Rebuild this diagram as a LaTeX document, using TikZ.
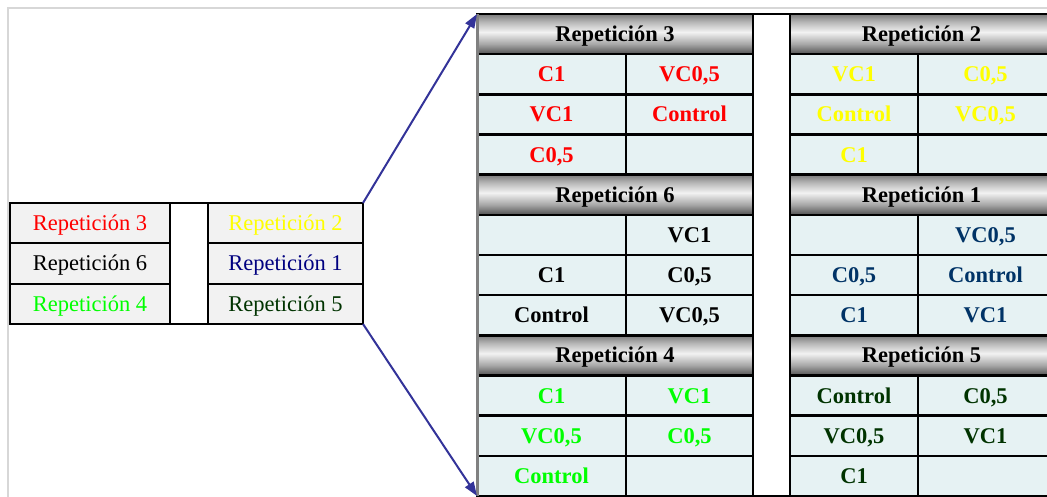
\documentclass[tikz,border=0pt]{standalone}
\usepackage{fontspec}
\setmainfont{Liberation Serif}
\usetikzlibrary{arrows.meta}
\definecolor{cellbg}{RGB}{230,242,243}
\definecolor{smallbg}{RGB}{242,242,242}
\definecolor{arrowblue}{RGB}{51,51,153}
\definecolor{repred}{RGB}{255,0,0}
\definecolor{repyellow}{RGB}{255,255,0}
\definecolor{repgreen}{RGB}{0,255,0}
\definecolor{repnavy}{RGB}{0,0,128}
\definecolor{repblue}{RGB}{0,51,102}
\definecolor{repdkgreen}{RGB}{0,51,0}
\definecolor{framegray}{RGB}{215,215,215}
\pgfdeclareverticalshading{hdrshade}{100bp}{%
  color(0bp)=(black!68); color(25bp)=(black!68); color(37.5bp)=(black!35);
  color(52.5bp)=(black!5); color(65bp)=(black!28); color(75bp)=(black!52); color(100bp)=(black!52)}
\tikzset{
  cell/.style={draw=black, line width=2.4pt, fill=cellbg, inner sep=0pt, outer sep=0pt,
    minimum height=40.17pt, anchor=north west, text height=15pt, text depth=0pt,
    font=\fontsize{22.5}{26}\selectfont\bfseries},
  hdr/.style={draw=black, line width=2.4pt, inner sep=0pt, outer sep=0pt,
    minimum height=40.17pt, anchor=north west, shading=hdrshade, text height=15pt, text depth=0pt,
    font=\fontsize{22.5}{26}\selectfont\bfseries},
  scell/.style={draw=black, line width=2pt, fill=smallbg, inner sep=0pt, outer sep=0pt,
    minimum height=40.33pt, anchor=north west, text height=15pt, text depth=0pt,
    font=\fontsize{22.5}{26}\selectfont},
  gapbox/.style={draw=black, line width=2.2pt, fill=white, inner sep=0pt, outer sep=0pt, anchor=north west},
  link/.style={draw=arrowblue, line width=2pt, -{Triangle[length=14pt,width=10pt]}}
}
\newcommand{\rrow}[8]{%
  \node[cell, text=#6, minimum width=#4pt] (#1a) at (#2,#3) {#7};
  \node[cell, text=#6, minimum width=#5pt] (#1b) at (#2+#4,#3) {#8};
}
\begin{document}
\begin{tikzpicture}[x=1pt,y=-1pt]
\clip (0,0) rectangle (1047,497);
\fill[white] (0,0) rectangle (1047,497);
% outer light frame
\draw[framegray, line width=1.5pt] (8,497) -- (8,8) -- (1047,8);

% ---------- small table ----------
\node[scell, text=repred, minimum width=160pt] (s3) at (10,203) {Repetición 3};
\node[scell, text=black, minimum width=160pt] (s6) at (10,243.33) {Repetición 6};
\node[scell, text=repgreen, minimum width=160pt] (s4) at (10,283.67) {Repetición 4};
\node[gapbox, minimum width=38pt, minimum height=121pt] (sgap) at (170,203) {};
\node[scell, text=repyellow, minimum width=155pt] (s2) at (208,203) {Repetición 2};
\node[scell, text=repnavy, minimum width=155pt] (s1) at (208,243.33) {Repetición 1};
\node[scell, text=repdkgreen, minimum width=155pt] (s5) at (208,283.67) {Repetición 5};

% ---------- big table ----------
\node[gapbox, minimum width=37pt, minimum height=482pt] (bgap) at (753,14) {};

% Repeticion 3
\node[hdr, minimum width=276pt] (h3) at (477,14) {Repetición 3};
\rrow{r3x}{477}{54.17}{149}{127}{repred}{C1}{VC0,5}
\rrow{r3y}{477}{94.33}{149}{127}{repred}{VC1}{Control}
\rrow{r3z}{477}{134.5}{149}{127}{repred}{C0,5}{}
% Repeticion 6
\node[hdr, minimum width=276pt] (h6) at (477,174.67) {Repetición 6};
\rrow{r6x}{477}{214.83}{149}{127}{black}{}{VC1}
\rrow{r6y}{477}{255}{149}{127}{black}{C1}{C0,5}
\rrow{r6z}{477}{295.17}{149}{127}{black}{Control}{VC0,5}
% Repeticion 4
\node[hdr, minimum width=276pt] (h4) at (477,335.33) {Repetición 4};
\rrow{r4x}{477}{375.5}{149}{127}{repgreen}{C1}{VC1}
\rrow{r4y}{477}{415.67}{149}{127}{repgreen}{VC0,5}{C0,5}
\rrow{r4z}{477}{455.83}{149}{127}{repgreen}{Control}{}

% Repeticion 2
\node[hdr, minimum width=263pt] (h2) at (790,14) {Repetición 2};
\rrow{r2x}{790}{54.17}{128}{135}{repyellow}{VC1}{C0,5}
\rrow{r2y}{790}{94.33}{128}{135}{repyellow}{Control}{VC0,5}
\rrow{r2z}{790}{134.5}{128}{135}{repyellow}{C1}{}
% Repeticion 1
\node[hdr, minimum width=263pt] (h1) at (790,174.67) {Repetición 1};
\rrow{r1x}{790}{214.83}{128}{135}{repblue}{}{VC0,5}
\rrow{r1y}{790}{255}{128}{135}{repblue}{C0,5}{Control}
\rrow{r1z}{790}{295.17}{128}{135}{repblue}{C1}{VC1}
% Repeticion 5
\node[hdr, minimum width=263pt] (h5) at (790,335.33) {Repetición 5};
\rrow{r5x}{790}{375.5}{128}{135}{repdkgreen}{Control}{C0,5}
\rrow{r5y}{790}{415.67}{128}{135}{repdkgreen}{VC0,5}{VC1}
\rrow{r5z}{790}{455.83}{128}{135}{repdkgreen}{C1}{}

% gray left edge of the big table
\draw[black!50, line width=3pt] (h3.north west) -- (r4za.south west);

% ---------- connectors ----------
\draw[link] (s2.north east) -- (h3.north west);
\draw[link] (s5.south east) -- (r4za.south west);
\end{tikzpicture}
\end{document}
